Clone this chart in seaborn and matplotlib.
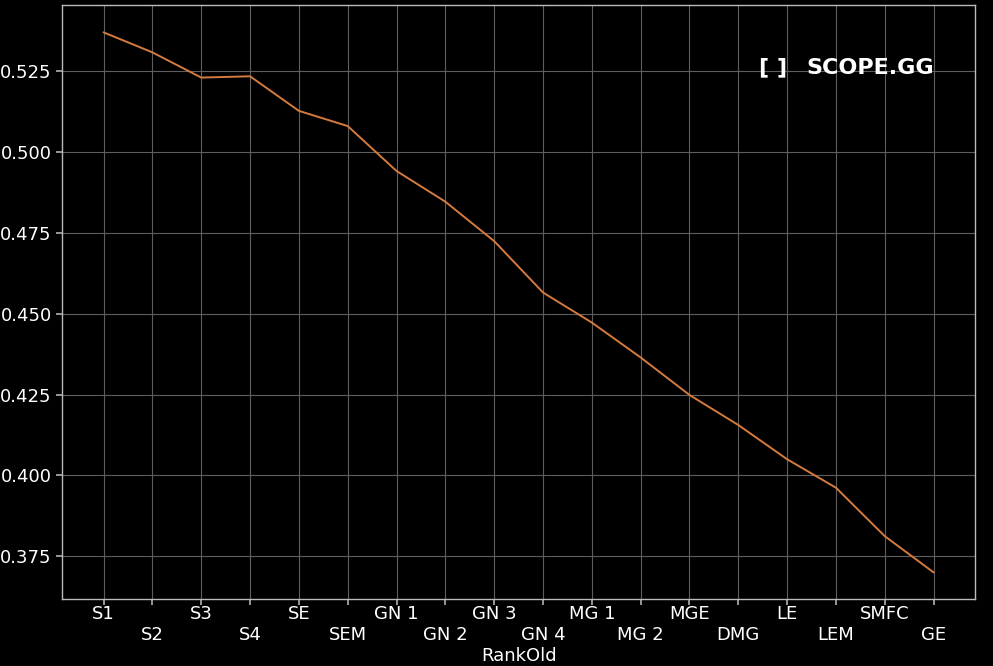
import pandas as pd
import seaborn as sns
from matplotlib import pyplot as plt

ranks = ['S1', 'S2', 'S3', 'S4', 'SE', 'SEM', 'GN 1', 'GN 2', 'GN 3', 'GN 4',
         'MG 1', 'MG 2', 'MGE', 'DMG', 'LE', 'LEM', 'SMFC', 'GE']
values = [0.5371, 0.5309, 0.5231, 0.5235, 0.5128, 0.5081, 0.4942, 0.4847, 0.4725,
          0.4566, 0.4473, 0.4365, 0.4249, 0.4156, 0.4050, 0.3962, 0.3812, 0.3700]

sns.set_theme(style="darkgrid")
plt.rcParams['font.family'] = ['DejaVu Sans']

df = pd.DataFrame({'RankOld': ranks, 'value': values})
df['pos'] = range(len(df))

fig, ax = plt.subplots(figsize=(9.93, 6.66), dpi=100)
fig.patch.set_facecolor('black')
ax.set_facecolor('black')

sns.lineplot(data=df, x='pos', y='value', ax=ax, color='#d57b3e', linewidth=1.4)

ax.set_xticks(df['pos'])
ax.set_xticklabels([r if i % 2 == 0 else '\n' + r for i, r in enumerate(ranks)])
ax.set_yticks([0.375, 0.400, 0.425, 0.450, 0.475, 0.500, 0.525])
ax.set_yticklabels(['0.375', '0.400', '0.425', '0.450', '0.475', '0.500', '0.525'])
ax.margins(x=0.05, y=0.05)

ax.grid(True, color='#5e5e5e', linewidth=0.8)
ax.tick_params(colors='white', labelsize=13, length=4, color='#aaaaaa', bottom=True, left=True)
ax.tick_params(axis='x', pad=0)
for s in ax.spines.values():
    s.set_visible(True)
    s.set_color('#bbbbbb')
    s.set_linewidth(1.0)

ax.set_xlabel('RankOld', color='white', fontsize=13, labelpad=2)
ax.set_ylabel(None)

# watermark logo
ax.text(0.763, 0.895, '[ ]', transform=ax.transAxes, color='white', fontsize=16,
        fontweight='bold', ha='left', va='center')
ax.text(0.815, 0.895, 'SCOPE.GG', transform=ax.transAxes, color='white', fontsize=16,
        fontweight='bold', ha='left', va='center')

fig.subplots_adjust(left=0.0625, right=0.982, top=0.992, bottom=0.10)
plt.savefig('out.png', facecolor='black')
